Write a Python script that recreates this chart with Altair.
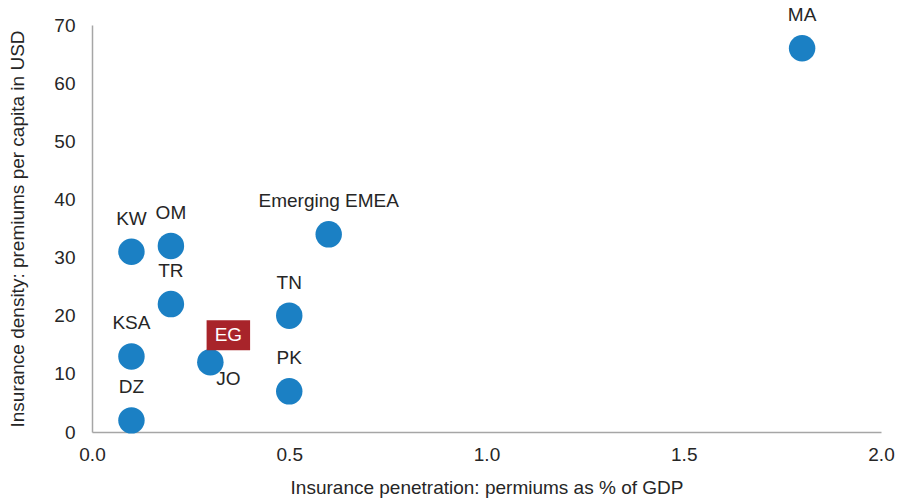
import altair as alt
import pandas as pd

# Insurance penetration (% of GDP) vs density (USD per capita)
countries = ["MA", "Emerging EMEA", "KW", "OM", "TR", "TN", "KSA", "EG", "PK", "DZ"]
penetration = [1.8, 0.6, 0.1, 0.2, 0.2, 0.5, 0.1, 0.3, 0.5, 0.1]
density = [66, 34, 31, 32, 22, 20, 13, 12, 7, 2]

# Labels drawn above their point
above = ["MA", "Emerging EMEA", "KW", "OM", "TR", "TN", "KSA", "PK", "DZ"]

df = pd.DataFrame({"country": countries, "pen": penetration, "dens": density})
df_above = df[df["country"].isin(above)]
df_eg = df[df["country"] == "EG"].assign(code="EG", jo="JO")

FONT = "Liberation Sans"
FS = 19
BLUE = "#1b80c4"
RED = "#a8242a"
TXT = "#262626"

x_enc = alt.X(
    "pen:Q",
    scale=alt.Scale(domain=[0, 2.0], nice=False),
    axis=alt.Axis(
        title="Insurance penetration: permiums as % of GDP",
        values=[0, 0.5, 1.0, 1.5, 2.0],
        format=".1f",
        grid=False,
        ticks=False,
        labelFlush=False,
        domainColor="#a6a6a6",
        domainWidth=1.5,
        labelPadding=13,
        titlePadding=14,
    ),
)
y_enc = alt.Y(
    "dens:Q",
    scale=alt.Scale(domain=[0, 70], nice=False),
    axis=alt.Axis(
        title="Insurance density: premiums per capita in USD",
        values=list(range(0, 71, 10)),
        grid=False,
        ticks=False,
        labelFlush=False,
        domainColor="#a6a6a6",
        domainWidth=1.5,
        labelPadding=17,
        titlePadding=26,
    ),
)

points = alt.Chart(df).mark_circle(size=700, color=BLUE, opacity=1).encode(x=x_enc, y=y_enc)

labels = alt.Chart(df_above).mark_text(
    font=FONT, fontSize=FS, color=TXT, dy=-33, baseline="middle", align="center"
).encode(x="pen:Q", y="dens:Q", text="country:N")

jo_label = alt.Chart(df_eg).mark_text(
    font=FONT, fontSize=FS, color=TXT, dx=18, dy=17, baseline="middle", align="center"
).encode(x="pen:Q", y="dens:Q", text="jo:N")

eg_box = alt.Chart(df_eg).mark_point(
    shape="M-1.45,-1L1.45,-1L1.45,1L-1.45,1Z",
    filled=True,
    size=900,
    color=RED,
    opacity=1,
    strokeWidth=0,
    xOffset=18,
    yOffset=-27,
).encode(x="pen:Q", y="dens:Q")

eg_text = alt.Chart(df_eg).mark_text(
    font=FONT, fontSize=FS, color="white", dx=18, dy=-27, baseline="middle", align="center"
).encode(x="pen:Q", y="dens:Q", text="code:N")

chart = (
    alt.layer(points, labels, jo_label, eg_box, eg_text)
    .properties(
        width=789,
        height=407,
        autosize=alt.AutoSizeParams(type="none"),
        padding={"left": 92, "top": 25, "right": 30, "bottom": 68},
    )
    .configure_view(stroke=None)
    .configure_axis(
        labelFont=FONT,
        titleFont=FONT,
        labelFontSize=FS,
        titleFontSize=FS,
        labelColor=TXT,
        titleColor=TXT,
        titleFontWeight="normal",
    )
)

chart.save("out.html", embed_options={"renderer": "svg", "actions": False})
